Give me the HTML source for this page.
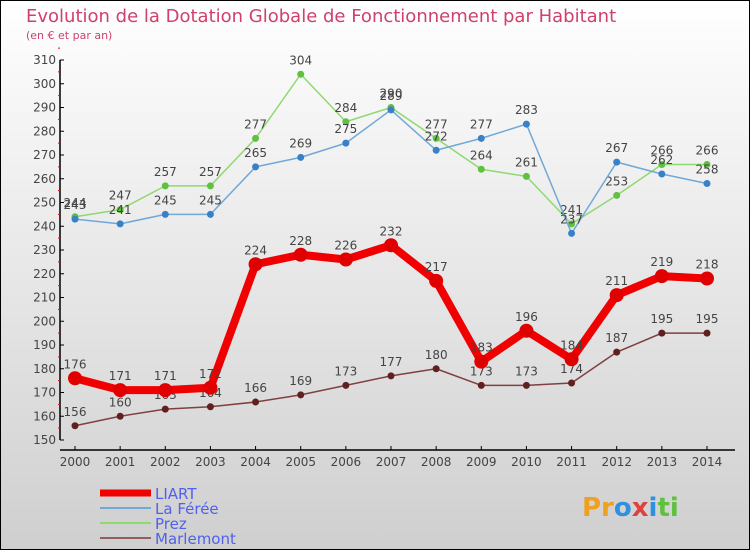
<!DOCTYPE html>
<html><head><meta charset="utf-8"><style>
body{margin:0}
#c{width:750px;height:550px;position:relative;font-family:"DejaVu Sans","Liberation Sans",sans-serif}
</style></head><body>
<div id="c">
<svg id="s" width="750" height="550" xmlns="http://www.w3.org/2000/svg">
<defs><linearGradient id="bg" x1="0" y1="0" x2="0" y2="1"><stop offset="0" stop-color="#ffffff"/><stop offset="1" stop-color="#cfcfcf"/></linearGradient></defs>
<rect x="0.5" y="0.5" width="749" height="549" fill="url(#bg)" stroke="#000"/>
<text x="26" y="22" font-size="18" fill="#d0406a">Evolution de la Dotation Globale de Fonctionnement par Habitant</text>
<text x="26" y="39" font-size="11" fill="#d0406a">(en € et par an)</text>
<g id="axes"></g><g id="series"></g><g id="legend"></g>
<text x="582" y="516" font-size="26" font-weight="bold" fill="#f0a020">Pr<tspan fill="#3090e0">o</tspan><tspan fill="#e04040">x</tspan><tspan fill="#3090e0">i</tspan><tspan fill="#60c040">ti</tspan></text>
</svg>
</div>
<script>
const years=["2000","2001","2002","2003","2004","2005","2006","2007","2008","2009","2010","2011","2012","2013","2014"];
const liart=[176,171,171,172,224,228,226,232,217,183,196,184,211,219,218];
const laferee=[243,241,245,245,265,269,275,289,272,277,283,237,267,262,258];
const prez=[244,247,257,257,277,304,284,290,277,264,261,241,253,266,266];
const marlemont=[156,160,163,164,166,169,173,177,180,173,173,174,187,195,195];
const yTicks=[150,160,170,180,190,200,210,220,230,240,250,260,270,280,290,300,310];
const NS="http://www.w3.org/2000/svg";
const X=i=>75+i*(707-75)/(years.length-1);
const Y=v=>440-(v-150)*380/160;
function mk(t,a,p){const e=document.createElementNS(NS,t);for(const k in a)e.setAttribute(k,a[k]);p.appendChild(e);return e;}
const ax=document.getElementById('axes');
const yl=mk('line',{x1:60,y1:60,x2:60,y2:440,stroke:'#000','stroke-width':1.5},ax);

yTicks.forEach(v=>{mk('line',{x1:60,y1:Y(v),x2:64,y2:Y(v),stroke:'#000'},ax);
 mk('line',{x1:58,y1:Y(v+5),x2:60,y2:Y(v+5),stroke:'#f00'},ax);
 const t=mk('text',{x:56,y:Y(v)+4,'font-size':12,'text-anchor':'end',fill:'#444'},ax);t.textContent=v;
 });
const xl=mk('line',{x1:60,y1:450,x2:735,y2:450,stroke:'#000','stroke-width':1.5},ax);

years.forEach((y,i)=>{mk('line',{x1:X(i),y1:446,x2:X(i),y2:450,stroke:'#000'},ax);
 const t=mk('text',{x:X(i),y:466,'font-size':12,'text-anchor':'middle',fill:'#444'},ax);t.textContent=y;
 });
const sg=document.getElementById('series');
const defs=[[prez,'#90d870','#60c040',1.5,3.5,'prez'],[laferee,'#70a8d8','#3a80c8',1.5,3.5,'la-feree'],[marlemont,'#804040','#602020',1.5,3.5,'marlemont'],[liart,'#f00000','#e00000',8,7,'liart']];
defs.forEach(([d,c,dc,w,r,n])=>{
 const g=mk('g',{},sg);
 mk('polyline',{points:d.map((v,i)=>X(i)+','+Y(v)).join(' '),fill:'none',stroke:c,'stroke-width':w,'stroke-linejoin':'round'},g);
 d.forEach((v,i)=>{const p=mk('circle',{cx:X(i),cy:Y(v),r:r,fill:dc},g);
  
  const t=mk('text',{x:X(i),y:Y(v)-10,'font-size':12,'text-anchor':'middle',fill:'#444'},g);t.textContent=v;
  });
});
const lg=document.getElementById('legend');
const L=[['LIART','#f00000',7],['La Férée','#70a8d8',2],['Prez','#90d870',2],['Marlemont','#906060',2]];
L.forEach(([n,c,w],i)=>{const y=493+i*15;
 const g=mk('g',{},lg);
 mk('line',{x1:100,y1:y,x2:151,y2:y,stroke:c,'stroke-width':w},g);
 const t=mk('text',{x:155,y:y+6,'font-size':15,fill:'#5060f0'},g);t.textContent=n;});
</script>
</body></html>
